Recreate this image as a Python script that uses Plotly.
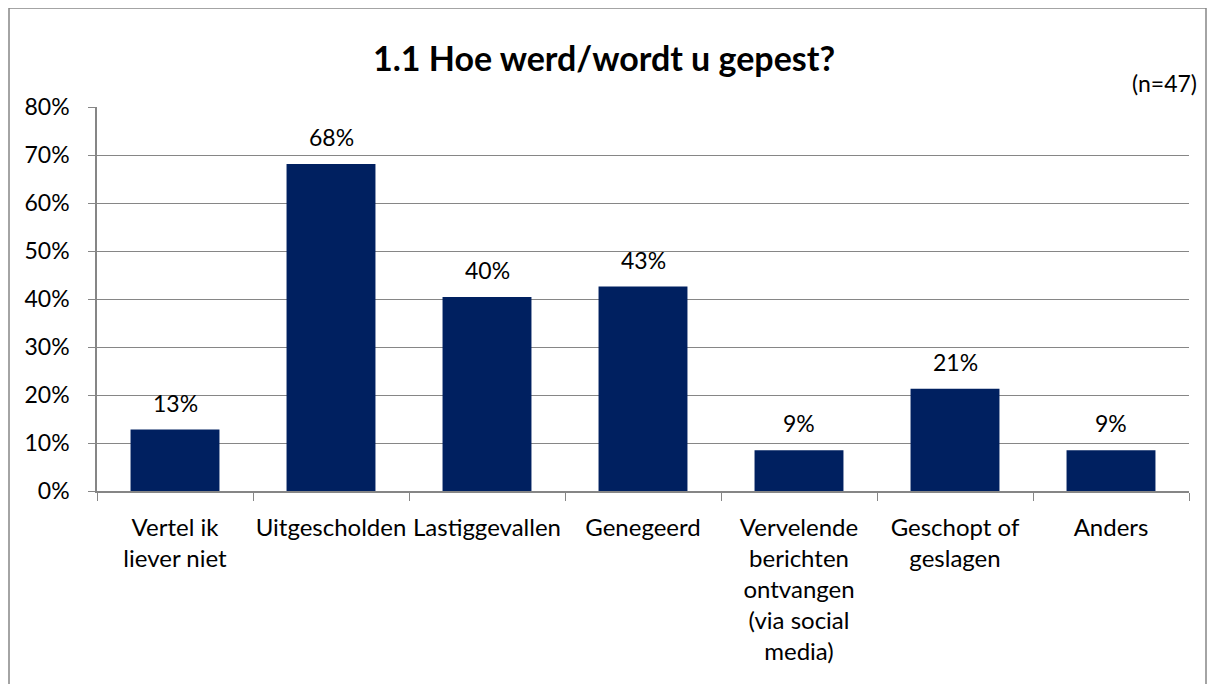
import plotly.graph_objects as go

categories = [
    "Vertel ik<br>liever niet",
    "Uitgescholden",
    "Lastiggevallen",
    "Genegeerd",
    "Vervelende<br>berichten<br>ontvangen<br>(via social<br>media)",
    "Geschopt of<br>geslagen",
    "Anders",
]
values = [12.8, 68.1, 40.4, 42.6, 8.5, 21.3, 8.5]
labels = ["13%", "68%", "40%", "43%", "9%", "21%", "9%"]
y_ticks = [0, 10, 20, 30, 40, 50, 60, 70, 80]
y_tick_text = [f"{v}%" for v in y_ticks]

FONT = "Lato"
FS = 24
W, H = 1215, 684
OFF = 8  # page offset in the screenshot
# screen-coordinate targets
sx0, sx1, sy_top, sy_bot = 97, 1189, 107, 491
L = sx0 - OFF
T = sy_top - OFF
R = W - (sx1 - OFF)
B = H - (sy_bot - OFF)
pw, ph = W - L - R, H - T - B


def px(xs):
    return (xs - sx0) / pw


def py(ys):
    return (sy_bot - ys) / ph


fig = go.Figure(go.Bar(
    x=categories, y=values,
    marker=dict(color="#002060", line=dict(width=0)),
    cliponaxis=False, width=0.57,
))

annotations = [dict(x=c, y=v, text=t, xref="x", yref="y", showarrow=False,
                    yanchor="middle", yshift=27,
                    font=dict(family=FONT, size=FS - 1, color="black"))
               for c, v, t in zip(categories, values, labels)]
annotations.append(dict(text="(n=47)", xref="paper", yref="paper",
                        x=px(1199), y=py(83), xanchor="right", yanchor="middle",
                        showarrow=False, font=dict(family=FONT, size=FS - 1, color="black")))

fig.update_layout(
    width=W, height=H,
    margin=dict(l=L, r=R, t=T, b=B),
    paper_bgcolor="white", plot_bgcolor="white",
    font=dict(family=FONT, size=FS, color="black"),
    showlegend=False,
    title=dict(text="<b>1.1 Hoe werd/wordt u gepest?</b>", x=(604 - OFF) / W, xanchor="center",
               y=1 - (59 - OFF) / H, yanchor="middle", yref="container", xref="container",
               font=dict(family=FONT, size=34, color="black")),
    xaxis=dict(tickson="boundaries", ticks="outside", ticklen=8, tickcolor="#868686",
               showline=True, linecolor="#868686", linewidth=1.5,
               tickfont=dict(family=FONT, size=FS), tickangle=0, ticklabelstandoff=14),
    yaxis=dict(range=[0, 80], tickvals=y_ticks, ticktext=y_tick_text,
               ticks="outside", ticklen=7, tickcolor="#868686",
               showline=True, linecolor="#868686", linewidth=1.5,
               showgrid=True, gridcolor="#868686", gridwidth=1.2,
               zeroline=False, tickfont=dict(family=FONT, size=FS - 1), ticklabelstandoff=14),
    annotations=annotations,
    shapes=[dict(type="rect", xref="paper", yref="paper",
                 x0=px(9), x1=px(1206),
                 y0=py(700), y1=py(8),
                 line=dict(color="#868686", width=1.5), fillcolor="rgba(0,0,0,0)", layer="below")],
)

fig.write_html("out.html")
